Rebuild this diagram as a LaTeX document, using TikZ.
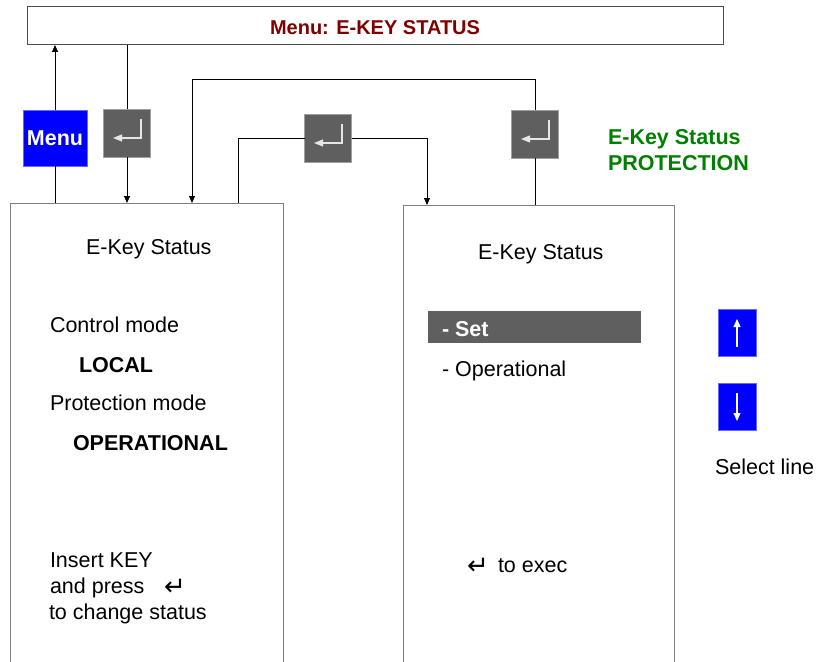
\documentclass[tikz,border=0pt]{standalone}
\usepackage{fontspec}
\setmainfont{Liberation Sans}
\newfontfamily\symfont{DejaVu Sans}
\usetikzlibrary{arrows.meta}
\definecolor{titlered}{HTML}{800000}
\definecolor{keygreen}{HTML}{008000}
\definecolor{keygray}{HTML}{5F5F5F}
\definecolor{keyedge}{HTML}{A0A0A0}
\definecolor{keyblue}{HTML}{0000FF}
\definecolor{glyphc}{HTML}{E6E6E6}
\definecolor{panelc}{HTML}{7F7F7F}
\begin{document}
\begin{tikzpicture}[x=1pt,y=-1pt,
  every node/.style={inner sep=0pt, outer sep=0pt},
  txt/.style={anchor=base west, font=\fontsize{21.5}{26}\selectfont},
  btxt/.style={anchor=base west, font=\fontsize{21.5}{26}\selectfont\bfseries},
  panel/.style={draw=panelc, line width=1pt, anchor=north west},
  entbtn/.style={fill=keygray, draw=keyedge, line width=0.8pt, minimum width=47pt, minimum height=48pt},
  bluebtn/.style={fill=keyblue, draw=blue!60!white, line width=0.8pt},
  conn/.style={draw=black, line width=0.9pt},
  arr/.style={conn, -{Triangle[length=7pt,width=6pt]}},
  glyph/.style={draw=glyphc, line width=1.1pt, -{Triangle[length=9pt,width=7pt,fill=glyphc]}},
  upglyph/.style={draw=white, line width=1.1pt, -{Triangle[length=8pt,width=7pt,fill=white]}},
  retsym/.style={anchor=base west, font=\symfont\fontsize{26}{28}\selectfont},
]
\useasboundingbox (0,0) rectangle (816,661);
\clip (0,0) rectangle (816,661);

% top menu bar
\node[draw=black!70, line width=1pt, minimum width=696pt, minimum height=38pt, anchor=north west] (top) at (27,7) {};
\node[anchor=base, font=\fontsize{20}{24}\selectfont\bfseries, text=titlered] (title) at (375,35) {Menu: E-KEY STATUS};

% panels
\node[panel, minimum width=273pt, minimum height=520pt] (L) at (10,203) {};
\node[panel, minimum width=271pt, minimum height=520pt] (R) at (403,205) {};

% buttons
\node[bluebtn, minimum width=64pt, minimum height=56pt, text=white, font=\fontsize{21.5}{26}\selectfont\bfseries] (menu) at (55,138) {Menu};
\node[entbtn] (e1) at (127,133) {};
\node[entbtn] (e2) at (328,138) {};
\node[entbtn] (e3) at (535,134) {};
\foreach \n in {e1,e2,e3}
  \draw[glyph] ([shift={(14,-14)}]\n.center) -- ([shift={(14,5)}]\n.center) -- ([shift={(-14,5)}]\n.center);

% connectors
\draw[conn] (L.north -| menu.south) -- (menu.south);
\draw[arr] (menu.north) -- (top.south -| menu.north);
\draw[conn] (top.south -| e1.north) -- (e1.north);
\draw[arr] (e1.south) -- (L.north -| e1.south);
\coordinate (k1) at (192,79);
\draw[arr] (e3.north) |- (k1) -- (k1 |- L.north);
\coordinate (k2) at (238,0);
\coordinate (k3) at (427,0);
\draw[conn] (k2 |- L.north) |- (e2.west);
\draw[arr] (e2.east) -| (k3 |- R.north);
\draw[conn] (e3.south) -- (R.north -| e3.south);

% green label
\node[btxt, text=keygreen] (g1) at (608,144) {E-Key Status};
\node[btxt, text=keygreen] (g2) at (608,170) {PROTECTION};

% left panel texts
\node[txt] (lt1) at (86,254) {E-Key Status};
\node[txt] (lt2) at (50,332) {Control mode};
\node[btxt] (lt3) at (79,372) {LOCAL};
\node[txt] (lt4) at (50,410) {Protection mode};
\node[btxt] (lt5) at (73,450) {OPERATIONAL};
\node[txt] (lt6) at (50,567) {Insert KEY};
\node[txt] (lt7) at (50,593) {and press};
\node[retsym] (lr) at (164,595) {↵};
\node[txt] (lt8) at (49,619) {to change status};

% right panel texts
\node[txt] (rt1) at (478,259) {E-Key Status};
\node[fill=keygray, minimum width=213pt, minimum height=32pt, anchor=north west] (bar) at (428,311) {};
\node[btxt, text=white] (rt2) at (442,336) {- Set};
\node[txt] (rt3) at (442,376) {- Operational};
\node[retsym] (rr) at (467,574) {↵};
\node[txt] (rt4) at (498,572) {to exec};

% up/down
\node[bluebtn, minimum width=38pt, minimum height=47pt] (up) at (737,332.5) {};
\node[bluebtn, minimum width=38pt, minimum height=47pt] (dn) at (737,406.5) {};
\draw[upglyph] ([shift={(0,14.5)}]up.center) -- ([shift={(0,-13.5)}]up.center);
\draw[upglyph] ([shift={(0,-13.5)}]dn.center) -- ([shift={(0,14.5)}]dn.center);
\node[txt] (sel) at (715,474) {Select line};
\end{tikzpicture}
\end{document}
